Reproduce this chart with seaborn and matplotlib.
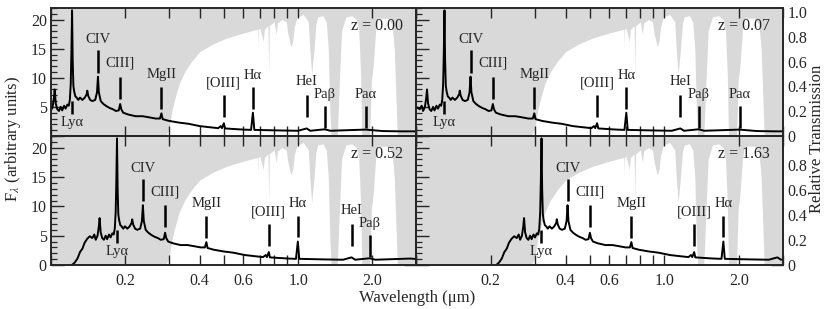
import numpy as np
import pandas as pd
import matplotlib
matplotlib.use("Agg")
import matplotlib.pyplot as plt
from matplotlib.ticker import MultipleLocator, NullLocator
import seaborn as sns

# ---------------- data ----------------
redshifts = [0.00, 0.07, 0.52, 1.63]

# rest-frame composite quasar spectrum (micron, arbitrary F_lambda)
rest_wl = [0.0800, 0.0820, 0.0842, 0.0862, 0.0882, 0.0900, 0.0923, 0.0945, 0.0967, 0.0985,
           0.0998, 0.1015, 0.1027, 0.1035, 0.1045, 0.1060, 0.1077, 0.1095, 0.1110, 0.1130,
           0.1146, 0.1165, 0.1180, 0.1192, 0.1202, 0.1209, 0.1217, 0.1224, 0.1232, 0.1242,
           0.1255, 0.1270, 0.1290, 0.1310, 0.1340, 0.1370, 0.1395, 0.1402, 0.1415, 0.1440,
           0.1470, 0.1510, 0.1535, 0.1549, 0.1562, 0.1590, 0.1630, 0.1680, 0.1730, 0.1780,
           0.1830, 0.1880, 0.1905, 0.1925, 0.1960, 0.2050, 0.2200, 0.2350, 0.2500, 0.2650,
           0.2760, 0.2798, 0.2830, 0.3000, 0.3300, 0.3600, 0.4000, 0.4400, 0.4750, 0.4861,
           0.4920, 0.5007, 0.5060, 0.5500, 0.6000, 0.6450, 0.6563, 0.6650, 0.7500, 0.8500,
           1.0000, 1.0830, 1.1200, 1.2820, 1.3500, 1.8750, 2.2000, 2.6000, 3.0500]
rest_flux = [0.0, 0.4, 1.1, 2.2, 2.8, 3.8, 4.5, 4.9, 4.6, 5.2,
             4.3, 5.0, 6.5, 8.0, 5.6, 4.6, 4.3, 5.0, 4.4, 5.2,
             4.7, 5.4, 5.2, 6.2, 9.0, 14.0, 21.6, 13.0, 8.6, 7.6,
             6.8, 6.6, 6.2, 6.6, 6.2, 6.6, 7.2, 7.8, 6.9, 6.2,
             6.0, 6.2, 7.5, 10.2, 7.5, 6.0, 5.5, 5.1, 4.8, 4.6,
             4.3, 4.4, 5.5, 4.6, 4.0, 3.7, 3.4, 3.4, 3.2, 3.0,
             3.0, 3.9, 2.9, 2.6, 2.3, 2.1, 1.7, 1.5, 1.35, 1.7,
             1.35, 2.2, 1.3, 1.2, 1.1, 1.05, 4.0, 1.05, 1.0, 0.95,
             0.9, 1.3, 0.9, 1.15, 0.9, 1.1, 0.85, 0.8, 0.8]

# atmospheric transmission (observed micron, relative transmission)
trans_wl = [0.080, 0.290, 0.300, 0.305, 0.310, 0.318, 0.330, 0.348, 0.370, 0.400,
            0.450, 0.514, 0.600, 0.653, 0.686, 0.688, 0.690, 0.700, 0.715, 0.722,
            0.730, 0.755, 0.760, 0.765, 0.800, 0.815, 0.825, 0.860, 0.895, 0.910,
            0.935, 0.950, 0.965, 0.990, 1.050, 1.100, 1.115, 1.135, 1.160, 1.180,
            1.200, 1.260, 1.300, 1.325, 1.345, 1.360, 1.440, 1.470, 1.500, 1.560,
            1.650, 1.720, 1.760, 1.790, 1.810, 1.950, 1.980, 2.010, 2.060, 2.100,
            2.300, 2.400, 2.450, 2.480, 2.520, 3.100]
trans_val = [0.00, 0.00, 0.05, 0.14, 0.22, 0.31, 0.42, 0.52, 0.60, 0.68,
             0.74, 0.79, 0.83, 0.85, 0.86, 0.70, 0.86, 0.87, 0.80, 0.76,
             0.86, 0.89, 0.50, 0.89, 0.92, 0.82, 0.91, 0.94, 0.92, 0.82,
             0.72, 0.76, 0.88, 0.96, 0.98, 0.92, 0.70, 0.50, 0.70, 0.90,
             0.96, 0.97, 0.92, 0.70, 0.20, 0.00, 0.00, 0.45, 0.85, 0.96,
             0.97, 0.94, 0.85, 0.50, 0.00, 0.00, 0.45, 0.55, 0.85, 0.95,
             0.95, 0.90, 0.70, 0.40, 0.00, 0.00]

# emission lines (rest micron)
line_names = ["Ly\u03b1", "CIV", "CIII]", "MgII", "[OIII]", "H\u03b1", "HeI", "Pa\u03b2", "Pa\u03b1"]
line_rest = [0.1216, 0.1549, 0.1909, 0.2798, 0.5007, 0.6563, 1.0830, 1.2820, 1.8750]

x_ticks = [0.1, 0.2, 0.3, 0.4, 0.5, 0.6, 0.7, 0.8, 0.9, 1.0, 2.0, 3.0]
x_ticklabels = ["", "0.2", "", "0.4", "", "0.6", "", "", "", "1.0", "2.0", ""]

# ---------------- layout ----------------
# tick marks: (bottom, top, label_y) in flux units
line_marks = {
    "Ly\u03b1": (3.7, 6.0, 3.4),
    "CIV": (10.9, 14.7, 15.4),
    "CIII]": (6.4, 10.2, 11.4),
    "MgII": (4.6, 8.4, 9.4),
    "[OIII]": (3.2, 7.0, 8.0),
    "H\u03b1": (4.7, 8.4, 9.3),
    "HeI": (3.3, 7.0, 8.2),
    "Pa\u03b2": (1.4, 5.2, 6.0),
    "Pa\u03b1": (1.4, 5.2, 6.1),
}

sns.set_theme(style="ticks")
plt.rcParams["font.family"] = ["Liberation Serif", "DejaVu Serif"]
plt.rcParams["mathtext.fontset"] = "stix"
plt.rcParams["axes.linewidth"] = 1.2

FS_TICK = 11.5
FS_LINE = 10.5

fig = plt.figure(figsize=(8.30, 3.09), dpi=100)
W, H = 830.0, 309.0
boxes = [
    (51, 8, 365, 128),
    (416, 8, 367, 128),
    (51, 136, 365, 129),
    (416, 136, 367, 129),
]

XMIN, XMAX = 0.1, 3.0
YMAX = 22.0
TMAX = 1.032
GRAY = "#d9d9d9"

for i, (z, (bx, by, bw, bh)) in enumerate(zip(redshifts, boxes)):
    ax = fig.add_axes([bx / W, 1 - (by + bh) / H, bw / W, bh / H])
    tax = ax.twinx()
    ax.set_zorder(tax.get_zorder() + 1)
    ax.patch.set_visible(False)
    tax.set_facecolor("white")

    # transmission (gray where the atmosphere absorbs)
    tax.fill_between(trans_wl, trans_val, TMAX, color=GRAY, lw=0)
    tax.set_ylim(0, TMAX)

    # spectrum
    df = pd.DataFrame({"wl": np.array(rest_wl) * (1 + z), "flux": rest_flux})
    sns.lineplot(data=df, x="wl", y="flux", ax=ax, color="black", lw=1.4,
                 sort=False, estimator=None)

    ax.set_xscale("log")
    ax.set_xlim(XMIN, XMAX)
    ax.set_ylim(0, YMAX)
    ax.set_xlabel("")
    ax.set_ylabel("")

    # line labels
    for name, lr in zip(line_names, line_rest):
        lo = lr * (1 + z)
        if lo > 2.6 or lo < XMIN:
            continue
        b, t, ly = line_marks[name]
        ax.vlines(lo, b, t, color="black", lw=1.8)
        if name == "Ly\u03b1":
            ax.text(lo, ly, name, ha="center", va="top", fontsize=FS_LINE)
        else:
            ax.text(lo, ly, name, ha="center", va="bottom", fontsize=FS_LINE)

    ax.text(0.965, 0.86, f"z = {z:.2f}", transform=ax.transAxes, ha="right",
            va="center", fontsize=FS_TICK)

    # x ticks
    ax.set_xticks(x_ticks)
    ax.xaxis.set_minor_locator(NullLocator())
    bottom_row = i >= 2
    ax.set_xticklabels(x_ticklabels if bottom_row else [""] * len(x_ticks))
    ax.tick_params(axis="x", which="major", direction="in", length=7, width=1.0,
                   top=True, bottom=True, labelsize=FS_TICK, pad=6)

    # left y ticks (flux)
    yt = [0, 5, 10, 15, 20]
    ax.set_yticks(yt)
    ax.yaxis.set_minor_locator(MultipleLocator(1))
    left_col = i % 2 == 0
    if left_col:
        ax.set_yticklabels(["0" if bottom_row else "", "5", "10", "15", "20"])
    else:
        ax.set_yticklabels([""] * len(yt))
    ax.tick_params(axis="y", which="major", direction="in", length=9, width=1.0,
                   left=True, right=False, labelsize=FS_TICK, pad=3)
    ax.tick_params(axis="y", which="minor", direction="in", length=4.5, width=0.9,
                   left=True, right=False)

    # right y ticks (transmission)
    tt = [0, 0.2, 0.4, 0.6, 0.8, 1.0]
    tax.set_yticks(tt)
    tax.yaxis.set_minor_locator(MultipleLocator(0.05))
    if not left_col:
        labs = ["0", "0.2", "0.4", "0.6", "0.8", "1.0" if not bottom_row else ""]
        tax.set_yticklabels(labs)
    else:
        tax.set_yticklabels([""] * len(tt))
    tax.tick_params(axis="y", which="major", direction="in", length=9, width=1.0,
                    right=True, left=False, labelsize=FS_TICK, pad=3)
    tax.tick_params(axis="y", which="minor", direction="in", length=4.5, width=0.9,
                    right=True, left=False)
    for sp in ax.spines.values():
        sp.set_linewidth(1.2)
        sp.set_visible(True)

fig.text(0.016, 0.55, "F$_{\\lambda}$ (arbitrary units)", rotation=90,
         ha="center", va="center", fontsize=12)
fig.text(0.984, 0.55, "Relative Transmission", rotation=90,
         ha="center", va="center", fontsize=12)
fig.text(417 / W, 0.035, "Wavelength (\u03bcm)", ha="center", va="center",
         fontsize=12)

fig.savefig("out.png", dpi=100)
